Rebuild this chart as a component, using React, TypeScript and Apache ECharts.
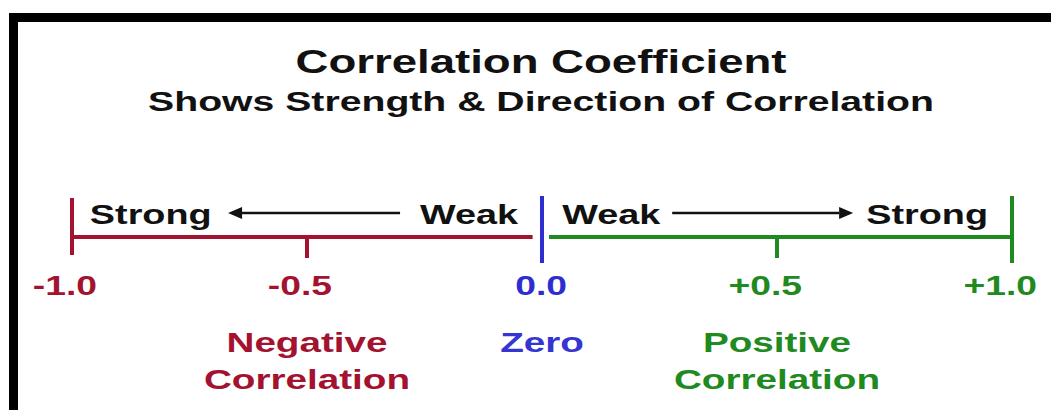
import React, { useEffect, useRef } from "react";
import * as echarts from "echarts";

// ---- data ----
const TITLE = "Correlation Coefficient";
const SUBTITLE = "Shows Strength & Direction of Correlation";
const TICKS = [-1, -0.5, 0, 0.5, 1];
const TICK_LABELS = ["-1.0", "-0.5", "0.0", "+0.5", "+1.0"];
const NEG_SEGMENT = [-1, -0.02];
const POS_SEGMENT = [0.015, 1];
const STRENGTH_WORDS = ["Strong", "Weak", "Weak", "Strong"];
const STRENGTH_X = [-0.962, -0.051, 0.043, 0.949];
const ARROW_FROM = [-0.302, 0.277];
const ARROW_TO = [-0.668, 0.662];
const CATEGORIES = ["Negative\nCorrelation", "Zero", "Positive\nCorrelation"];
const CATEGORY_X = [-0.5, 0, 0.5];

// ---- style ----
const RED = "#a3122e";
const GREEN = "#1f8a1f";
const BLUE = "#2e2ed0";
const FONT = '"Liberation Sans", Arial, Helvetica, sans-serif';
const STRETCH = 1.38;

const colorFor = (v: number) => (v < 0 ? RED : v > 0 ? GREEN : BLUE);
const tickExtent = (v: number): [number, number] => {
  if (Math.abs(v) === 0.5) return [0, 21];
  if (v === -1) return [39, 18];
  return [41, 26];
};
const strengthAlign = (x: number) =>
  x < 0 ? (x < -0.5 ? "left" : "right") : x < 0.5 ? "left" : "right";

export default function App() {
  const ref = useRef<HTMLDivElement>(null);

  useEffect(() => {
    document.body.style.margin = "0";
    const chart = echarts.init(ref.current!, undefined, { renderer: "svg" });

    const option: any = {
      animation: false,
      backgroundColor: "#ffffff",
      grid: { left: 72, right: 39, top: 187, bottom: 123 },
      xAxis: { type: "value", min: -1, max: 1, show: false },
      yAxis: { type: "value", min: -1, max: 1, show: false },
      graphic: [
        { type: "rect", shape: { x: 9, y: 13, width: 1042, height: 9 }, style: { fill: "#000" } },
        { type: "rect", shape: { x: 9, y: 13, width: 9, height: 397 }, style: { fill: "#000" } },
        {
          type: "text",
          x: 541,
          y: 62,
          scaleX: 1.34,
          style: {
            text: TITLE,
            fill: "#111",
            font: `bold 34px ${FONT}`,
            align: "center",
            verticalAlign: "middle",
            textAlign: "center",
            textVerticalAlign: "middle",
          },
        },
        {
          type: "text",
          x: 541,
          y: 101,
          scaleX: 1.4,
          style: {
            text: SUBTITLE,
            fill: "#111",
            font: `bold 28px ${FONT}`,
            align: "center",
            verticalAlign: "middle",
            textAlign: "center",
            textVerticalAlign: "middle",
          },
        },
      ],
      series: [
        {
          type: "line",
          data: NEG_SEGMENT.map((x) => [x, 0]),
          symbol: "none",
          clip: false,
          lineStyle: { color: RED, width: 4, cap: "butt" },
          silent: true,
        },
        {
          type: "line",
          data: POS_SEGMENT.map((x) => [x, 0]),
          symbol: "none",
          clip: false,
          lineStyle: { color: GREEN, width: 4, cap: "butt" },
          silent: true,
        },
        {
          type: "custom",
          clip: false,
          silent: true,
          data: TICKS.map((v) => [v, 0]),
          renderItem: (params: any, api: any) => {
            const v = api.value(0);
            const p = api.coord([v, 0]);
            const [up, down] = tickExtent(v);
            const color = colorFor(v);
            return {
              type: "group",
              children: [
                {
                  type: "line",
                  shape: { x1: p[0], y1: p[1] - up, x2: p[0], y2: p[1] + down },
                  style: { stroke: color, lineWidth: 4 },
                },
                {
                  type: "text",
                  x: p[0] + 25,
                  y: p[1] + 49,
                  scaleX: STRETCH,
                  style: {
                    text: TICK_LABELS[params.dataIndex],
                    fill: color,
                    font: `bold 27px ${FONT}`,
                    align: "right",
                    verticalAlign: "middle",
                  },
                },
              ],
            };
          },
        },
        {
          type: "custom",
          clip: false,
          silent: true,
          data: STRENGTH_X.map((x) => [x, 0]),
          renderItem: (params: any, api: any) => {
            const x = api.value(0);
            const p = api.coord([x, 0]);
            return {
              type: "text",
              x: p[0],
              y: p[1] - 23,
              scaleX: 1.35,
              style: {
                text: STRENGTH_WORDS[params.dataIndex],
                fill: "#111",
                font: `bold 28px ${FONT}`,
                align: strengthAlign(x),
                verticalAlign: "middle",
              },
            };
          },
        },
        {
          type: "custom",
          clip: false,
          silent: true,
          data: ARROW_FROM.map((x, i) => [x, ARROW_TO[i]]),
          renderItem: (params: any, api: any) => {
            const a = api.coord([api.value(0), 0]);
            const b = api.coord([api.value(1), 0]);
            const y = a[1] - 24;
            const dir = b[0] > a[0] ? 1 : -1;
            const headLen = 14;
            const headHalf = 6;
            return {
              type: "group",
              children: [
                {
                  type: "line",
                  shape: { x1: a[0], y1: y, x2: b[0] - dir * headLen, y2: y },
                  style: { stroke: "#111", lineWidth: 2.5 },
                },
                {
                  type: "polygon",
                  shape: {
                    points: [
                      [b[0], y],
                      [b[0] - dir * headLen, y - headHalf],
                      [b[0] - dir * headLen, y + headHalf],
                    ],
                  },
                  style: { fill: "#111" },
                },
              ],
            };
          },
        },
        {
          type: "custom",
          clip: false,
          silent: true,
          data: CATEGORY_X.map((x) => [x, 0]),
          renderItem: (params: any, api: any) => {
            const x = api.value(0);
            const p = api.coord([x, 0]);
            const lines = CATEGORIES[params.dataIndex].split("\n");
            const color = x === 0 ? "#3535d2" : colorFor(x);
            return {
              type: "group",
              children: lines.map((line, i) => ({
                type: "text",
                x: p[0],
                y: p[1] + 105 + 37 * i,
                scaleX: STRETCH,
                style: {
                  text: line,
                  fill: color,
                  font: `bold 28px ${FONT}`,
                  align: "center",
                  verticalAlign: "middle",
                },
              })),
            };
          },
        },
      ],
    };

    chart.setOption(option);
    return () => chart.dispose();
  }, []);

  return <div ref={ref} style={{ width: 1051, height: 410 }} />;
}
